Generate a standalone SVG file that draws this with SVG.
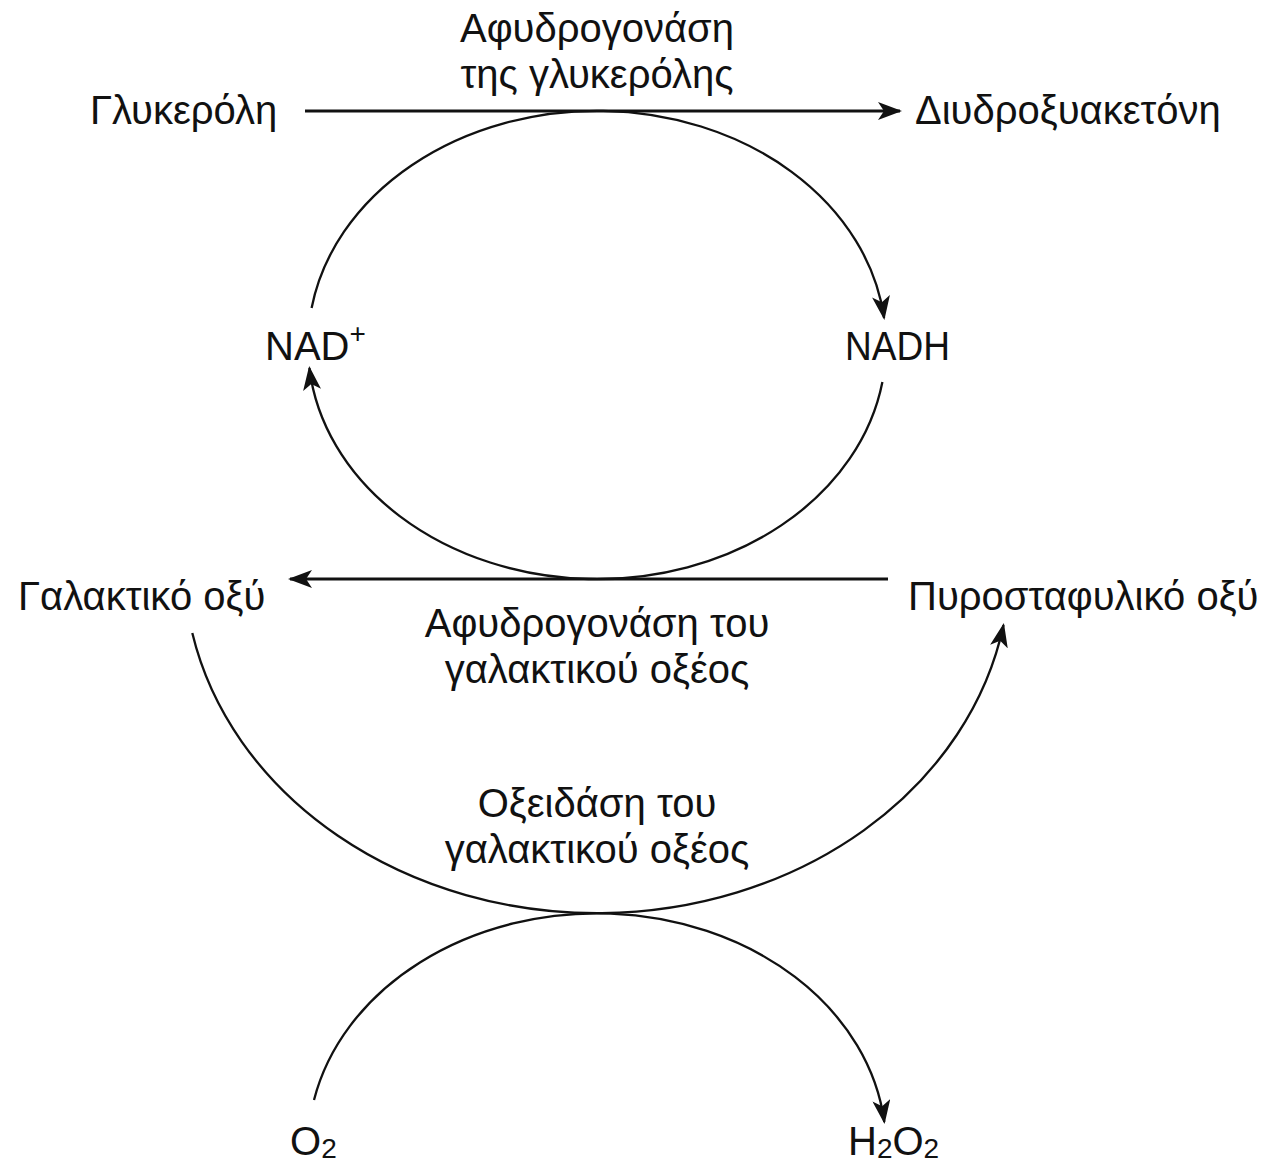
<svg xmlns="http://www.w3.org/2000/svg" width="1267" height="1167" viewBox="0 0 1267 1167">
<style>
text{font-family:"Liberation Sans",Arial,sans-serif;font-size:40px;fill:#111;}
.c{text-anchor:middle;}
.ln{fill:none;stroke:#111;stroke-width:2.3;}
.hl{fill:none;stroke:#111;stroke-width:2.8;}
.sub{font-size:28px;}
</style>
<defs>
<marker id="ah" viewBox="0 0 24 18" refX="22" refY="9" markerWidth="24" markerHeight="18" markerUnits="userSpaceOnUse" orient="auto">
<path d="M0,0 L24,9 L0,18 L6,9 Z" fill="#111"/>
</marker>
</defs>
<rect width="1267" height="1167" fill="#fff"/>
<g id="connectors">
<path class="hl" d="M305,111 L900,111" marker-end="url(#ah)"/>
<path class="hl" d="M888,579 L290,579" marker-end="url(#ah)"/>
<path class="ln" d="M311.6,308 A289,234 0 0 1 884.1,318" marker-end="url(#ah)"/>
<path class="ln" d="M882.4,382 A289,234 0 0 1 309.4,368" marker-end="url(#ah)"/>
<path class="ln" d="M192.3,633 A413,350 0 0 0 1003.5,625" marker-end="url(#ah)"/>
<path class="ln" d="M314,1100 A289,234 0 0 1 884.3,1122" marker-end="url(#ah)"/>
</g>
<g id="n-glycerol"><text x="90" y="124">Γλυκερόλη</text></g>
<g id="n-dhap"><text x="915" y="124">Διυδροξυακετόνη</text></g>
<g id="n-enz1"><text class="c" x="597" y="42">Αφυδρογονάση</text><text class="c" x="597" y="88">της γλυκερόλης</text></g>
<g id="n-nad"><text x="265" y="360">NAD<tspan dy="-17" class="sub">+</tspan></text></g>
<g id="n-nadh"><text x="845" y="360" textLength="105" lengthAdjust="spacingAndGlyphs">NADH</text></g>
<g id="n-lactate"><text x="18" y="610">Γαλακτικό οξύ</text></g>
<g id="n-pyruvate"><text x="908" y="610">Πυροσταφυλικό οξύ</text></g>
<g id="n-enz2"><text class="c" x="597" y="637">Αφυδρογονάση του</text><text class="c" x="597" y="683">γαλακτικού οξέος</text></g>
<g id="n-enz3"><text class="c" x="597" y="817">Οξειδάση του</text><text class="c" x="597" y="863">γαλακτικού οξέος</text></g>
<g id="n-o2"><text x="290" y="1155">O<tspan class="sub" dy="3">2</tspan></text></g>
<g id="n-h2o2"><text x="848" y="1155">H<tspan class="sub" dy="3">2</tspan><tspan dy="-3">O</tspan><tspan class="sub" dy="3">2</tspan></text></g>
</svg>
